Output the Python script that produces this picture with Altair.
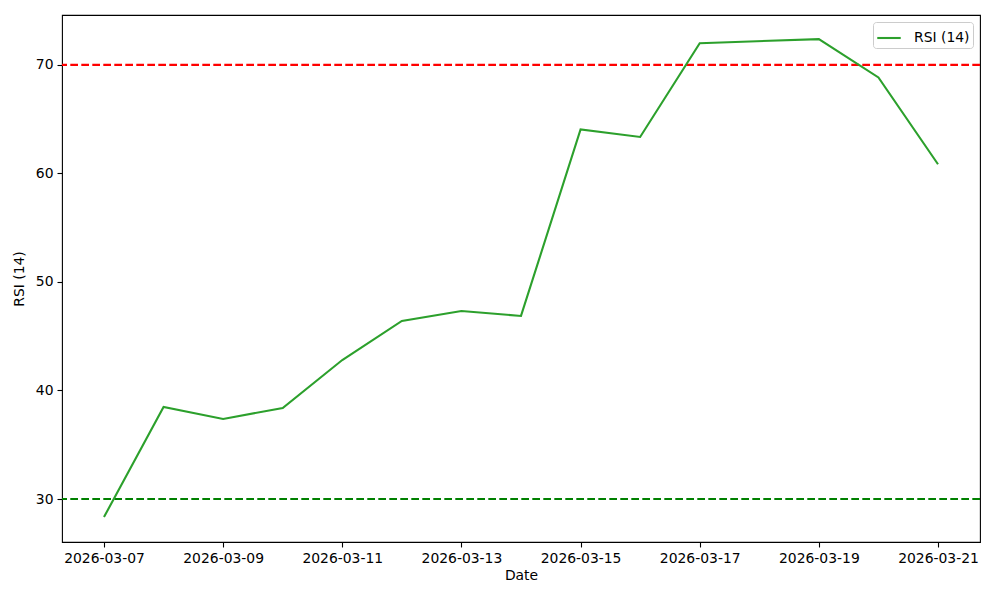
import altair as alt
import pandas as pd

dates = ["2026-03-07", "2026-03-08", "2026-03-09", "2026-03-10", "2026-03-11",
         "2026-03-12", "2026-03-13", "2026-03-14", "2026-03-15", "2026-03-16",
         "2026-03-17", "2026-03-19", "2026-03-20", "2026-03-21"]
rsi = [28.34, 38.48, 37.37, 38.39, 42.81, 46.41, 47.33, 46.87, 64.05, 63.36,
       72.0, 72.38, 68.85, 60.85]
series_name = ["RSI (14)"] * len(dates)
thresholds = [70, 30]
threshold_colors = ["#ff0000", "#008000"]
tick_dates = ["2026-03-07", "2026-03-09", "2026-03-11", "2026-03-13",
              "2026-03-15", "2026-03-17", "2026-03-19", "2026-03-21"]

df = pd.DataFrame({"Date": dates, "RSI": rsi, "series": series_name})
th = pd.DataFrame({"y": thresholds, "c": threshold_colors})

FONT = "DejaVu Sans"
FS = 13.9

def dt(s, h=0, m=0):
    y, mo, d = [int(v) for v in s.split("-")]
    return alt.DateTime(year=y, month=mo, date=d, hours=h, minutes=m, utc=True)

xscale = alt.Scale(type="utc", domain=[dt("2026-03-06", 7, 5), dt("2026-03-21", 16, 55)])
yscale = alt.Scale(domain=[26.04, 74.6], nice=False, zero=False)

axis_style = dict(grid=False, tickSize=5, tickWidth=1.1, domain=False, labelFont=FONT,
                  titleFont=FONT, labelFontSize=FS, titleFontSize=FS,
                  labelColor="black", titleColor="black", tickColor="black",
                  titleFontWeight="normal")

line = alt.Chart(df).mark_line(strokeWidth=2.1, clip=True).encode(
    x=alt.X("Date:T", scale=xscale, title="Date",
            axis=alt.Axis(values=[dt(s) for s in tick_dates], format="%Y-%m-%d",
                          labelPadding=4, titlePadding=4, **axis_style)),
    y=alt.Y("RSI:Q", scale=yscale, title="RSI (14)",
            axis=alt.Axis(values=[30, 40, 50, 60, 70], labelPadding=4,
                          titlePadding=9, **axis_style)),
    color=alt.Color("series:N", scale=alt.Scale(range=["#2ca02c"]),
                    legend=alt.Legend(title=None, orient="top-right", offset=7,
                                      symbolType="stroke", symbolSize=550,
                                      symbolStrokeWidth=2.1, strokeColor="#cccccc",
                                      fillColor="white", cornerRadius=3,
                                      padding=3, labelFontSize=FS, labelFont=FONT,
                                      labelColor="black", labelOffset=12)),
)

rules = alt.Chart(th).mark_rule(strokeWidth=2.1, strokeDash=[7.7, 3.3]).encode(
    y=alt.Y("y:Q", scale=yscale),
    color=alt.Color("c:N", scale=None),
)

chart = alt.layer(rules, line).properties(
    width=918, height=527,
    background="white",
    autosize=alt.AutoSizeParams(type="none"),
    padding={"left": 54, "top": 7, "right": 12, "bottom": 50},
).configure_view(stroke="black", strokeWidth=1.1)

chart.save("out.html", embed_options={"renderer": "svg", "actions": False})
